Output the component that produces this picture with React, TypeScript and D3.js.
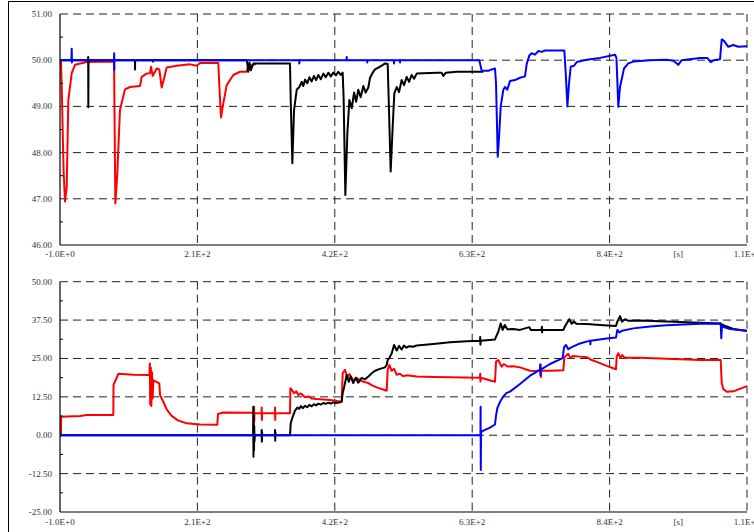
import React from "react";
import * as d3 from "d3";

type Pt = [number, number];

// time axis [s]
const xTicks = [-1, 210, 421, 632, 843, 1054];
const xTickLabels = ["-1.0E+0", "2.1E+2", "4.2E+2", "6.3E+2", "8.4E+2", "1.1E+3"];
const xUnit = "[s]";

const freqTicks = [46, 47, 48, 49, 50, 51];
const powerTicks = [-25, -12.5, 0, 12.5, 25, 37.5, 50];

// top panel (frequency)
const freqRed: Pt[] = [
  [-1, 50], [0.5, 50], [2, 49.2], [4.5, 47.6], [6.7, 46.94], [9.3, 47.26], [11.8, 49.14], [17, 49.72],
  [22, 49.9], [40, 49.96], [80.9, 49.97], [82, 49.94], [84, 46.9], [87, 47.55], [91.1, 48.92], [98.8, 49.37],
  [106.5, 49.42], [121.9, 49.44], [124.4, 49.64], [132, 49.71], [137.2, 49.72], [138.8, 49.86], [141.3, 49.66],
  [147.4, 49.82], [151.5, 49.8], [155.1, 49.41], [158.7, 49.6], [162.8, 49.84], [178.2, 49.88], [198.6, 49.91],
  [208.9, 49.88], [214, 49.94], [242.1, 49.94], [244.7, 49.16], [246.3, 48.76], [248.8, 48.99], [255, 49.46],
  [265.1, 49.68], [275.4, 49.75], [285.6, 49.75], [288.2, 49.87], [295.8, 49.9], [300, 49.92],
];

const freqBlack: Pt[] = [
  [-1, 50], [42, 50], [42.3, 50.07], [42.5, 48.98], [42.8, 50], [114, 50], [114.2, 49.8], [114.4, 50],
  [286, 50], [288, 49.75], [290, 49.95], [292, 49.78], [296, 49.93], [352.2, 49.93], [353.3, 49.14],
  [355.8, 47.77], [358.4, 48.92], [362.5, 49.36], [366.5, 49.42], [370.1, 49.53], [372.7, 49.44],
  [375.3, 49.58], [378.6, 49.5], [382, 49.63], [385.5, 49.54], [389, 49.66], [392.3, 49.57], [395.7, 49.68],
  [399.5, 49.59], [403.4, 49.71], [407.1, 49.63], [411, 49.73], [414.9, 49.65], [418.7, 49.73], [422.6, 49.67],
  [426.4, 49.75], [430, 49.68], [433.1, 49.73], [434.5, 49.2], [437.2, 47.08], [440.3, 48.42], [443.4, 49.14],
  [447, 48.96], [450.6, 49.3], [453.7, 49.1], [457.1, 49.36], [460.7, 49.2], [464.8, 49.44], [468.4, 49.3],
  [472.5, 49.41], [475.1, 49.62], [479.2, 49.73], [482.8, 49.8], [487.9, 49.84], [493, 49.88], [498.1, 49.93],
  [502.2, 49.92], [503.8, 49.14], [506.8, 47.59], [509.9, 48.56], [512.4, 49.28], [516.1, 49.42],
  [519.7, 49.31], [523.7, 49.57], [527.3, 49.46], [531.4, 49.64], [535, 49.53], [539.1, 49.68], [542.7, 49.6],
  [546.8, 49.71], [557, 49.72], [577.5, 49.73], [585, 49.73], [587.7, 49.66], [591.5, 49.73], [608.2, 49.75],
  [644, 49.75], [649.1, 49.75],
];

const freqBlue: Pt[] = [
  [-1, 50], [16.5, 50], [17, 50.25], [17.3, 49.95], [17.6, 50], [82, 50], [82.2, 50.15], [82.4, 49.79],
  [82.6, 50], [141.6, 50], [141.8, 49.97], [142, 50], [366.3, 50], [366.5, 49.93], [366.7, 50], [439.1, 50],
  [439.3, 50.07], [439.5, 50], [470.7, 50], [470.9, 49.95], [471.1, 50], [511.8, 50], [512, 49.93],
  [512.2, 50], [521, 50], [521.2, 49.95], [521.4, 50], [642.9, 50], [646.6, 49.77], [656.8, 49.77],
  [662, 49.8], [667, 49.82], [668.6, 49.5], [671.2, 47.91], [673.6, 48.42], [675.8, 49.0], [679.8, 49.36],
  [682.4, 49.42], [686, 49.36], [690, 49.55], [697.7, 49.57], [705.4, 49.62], [713.1, 49.65], [715.7, 49.92],
  [719.7, 50.1], [723.3, 50.15], [728.5, 50.12], [733.6, 50.2], [738.7, 50.18], [743.8, 50.21],
  [773.5, 50.21], [775.7, 49.7], [778.2, 49.0], [780.7, 49.5], [783.3, 49.86], [788.4, 49.88],
  [792.5, 49.96], [807.9, 50.01], [828.3, 50.05], [851.3, 50.12], [853.5, 50.05], [856.4, 48.99],
  [859, 49.42], [865.1, 49.82], [871.7, 49.93], [879.4, 49.97], [905, 50.0], [930.6, 50.01], [941, 49.99],
  [948.5, 49.9], [953.6, 50.0], [981.8, 50.05], [993, 50.05], [998.2, 49.96], [1003.3, 50.0],
  [1012.6, 50.02], [1015.2, 50.45], [1018.7, 50.42], [1025.3, 50.29], [1033, 50.33], [1040.7, 50.29],
  [1054, 50.3],
];

// bottom panel (power)
const powerRed: Pt[] = [
  [-1, 0], [0.5, 0], [0.7, 6.0], [10, 6.1], [30, 6.3], [40, 6.6], [80.9, 6.6], [81.2, 16.4], [83.5, 17.5],
  [88.6, 20.0], [111.6, 19.7], [136.2, 19.6], [137, 23.4], [137.5, 10], [138.5, 22], [139.3, 9.5],
  [140.3, 20.5], [141.3, 12], [142.3, 18], [143.3, 17.8], [151.5, 16.9], [152.6, 13.1], [157.7, 10.9],
  [162.8, 8.4], [170.5, 6.3], [180.7, 4.75], [193.5, 3.9], [214, 3.5], [240.6, 3.4], [241.6, 6.9],
  [249.8, 7.4], [296.5, 7.3], [297, 9.3], [297.3, 4.5], [297.7, 7.2], [308.5, 7.2], [308.7, 9.0],
  [309, 5.0], [309.3, 7.2], [329, 7.2], [329.2, 9.0], [329.5, 5.0], [329.8, 7.2], [352.2, 7.2],
  [352.8, 15.3], [356, 14.5], [358.4, 13.7], [362, 14.3], [365, 13.1], [369, 13.6], [375.3, 12.4],
  [381, 12.6], [385, 12.0], [393.2, 11.8], [413.6, 11.5], [431.6, 10.9], [433.1, 20.2], [436.7, 21.3],
  [440.3, 18.8], [443.4, 19.9], [449.4, 17.8], [454, 18.7], [464.8, 17.4], [472.5, 17.0], [477.7, 16.3],
  [485.3, 15.6], [500.7, 14.5], [502.2, 21.3], [504.7, 22.9], [508.4, 21.0], [512, 21.6], [516.1, 19.7],
  [521, 20.0], [526, 19.2], [531, 19.5], [546.8, 19.1], [572.3, 19.0], [597.9, 18.9], [644, 18.75],
  [644.3, 20.0], [644.6, 17.5], [645, 18.7], [667, 17.4], [668.6, 24.0], [672, 24.5], [677.3, 22.3],
  [680.5, 23.2], [686, 22.4], [695.2, 22.5], [705.4, 22.1], [720.8, 21.0], [730, 20.9], [736.1, 21.2],
  [737, 23], [737.5, 19], [738, 21.1], [751.5, 21.0], [772, 21.2], [773.5, 25.4], [779.6, 26.5],
  [782.8, 25.1], [786.5, 25.8], [797.6, 25.6], [807.9, 25.4], [815.5, 24.5], [828.3, 23.5], [838.5, 22.6],
  [852.8, 21.5], [853.9, 25.6], [856.5, 26.7], [859.5, 25.2], [862.5, 26.1], [866, 25.2], [889.7, 25.2],
  [930.6, 24.9], [981.8, 24.5], [1013.6, 24.5], [1015.2, 16.9], [1017.7, 15.0], [1022.9, 14.2],
  [1033, 14.3], [1054, 16.0],
];

const powerBlack: Pt[] = [
  [-1, 0], [295.5, 0], [295.8, 9.3], [296.1, -7], [296.5, 6], [296.9, -5], [297.3, 3], [297.7, -2],
  [298.2, 0], [308.5, 0], [308.7, 1.7], [309, -2.1], [309.3, 1], [309.6, 0], [329, 0], [329.2, 1.7],
  [329.5, -1.8], [329.8, 1], [330.1, 0], [352.2, 0], [353.3, 3.9], [356.3, 6.0], [359.9, 8.0], [363.5, 9.0],
  [366.5, 8.6], [369, 9.5], [372, 8.8], [375.3, 9.6], [378.6, 9.1], [382, 9.9], [385.5, 9.4], [389, 10.1],
  [392.3, 9.7], [395.7, 10.3], [399.5, 10.0], [403.4, 10.5], [407, 10.2], [411, 10.6], [415, 10.3],
  [418.7, 10.7], [423, 10.5], [429, 10.7], [431.6, 11.0], [433.1, 13.7], [435.6, 15.9], [439.3, 19.6],
  [442.4, 17.4], [445.5, 19.1], [449.4, 17.0], [453.4, 18.7], [457.1, 17.1], [462.3, 18.7], [467.5, 18.2],
  [472.5, 19.1], [477.7, 20.2], [482.8, 21.0], [490.4, 21.6], [498.1, 22.1], [500.7, 22.9], [502.2, 24.5],
  [504.7, 25.1], [508.4, 26.7], [512, 29.4], [516.1, 27.6], [519.7, 29.1], [523.7, 27.9], [527.3, 29.2],
  [531, 28.5], [535, 29.0], [541, 28.8], [546.8, 29.2], [572.3, 29.7], [597.9, 30.3], [623.5, 30.6],
  [644, 30.8], [644.3, 32], [644.6, 29.5], [645, 30.8], [667, 31.2], [668.6, 32.0], [672.1, 33.7],
  [675.8, 36.4], [678.8, 34.3], [682, 35.9], [686, 34.5], [695.2, 34.6], [705.4, 34.3], [719.7, 35.2],
  [722, 34.3], [738.7, 34.3], [739, 35.3], [739.3, 33.5], [739.6, 34.3], [772, 34.3], [774.5, 35.5],
  [781.1, 37.8], [784.8, 36.3], [788, 37.0], [792, 36.3], [807.9, 36.2], [828.3, 35.9], [852.8, 35.6],
  [854.9, 37], [859, 38.8], [862, 37], [866.7, 37.8], [871, 37.3], [889.7, 37.4], [930.6, 37.0],
  [981.8, 36.6], [1012.6, 36.4], [1017.7, 35.8], [1033, 34.6], [1054, 33.95],
];

const powerBlue: Pt[] = [
  [-1, 0], [644.7, 0], [644.9, 9.3], [645.2, -11.3], [645.6, 1.0], [649.1, 1.5], [659.4, 2.5], [667, 3.5],
  [668.6, 6.4], [670.6, 8.8], [674.6, 10.8], [679.8, 12.6], [684.9, 13.8], [690, 14.2], [705.4, 16.7],
  [720.8, 19.4], [736.1, 21.3], [736.5, 23], [736.9, 19.5], [737.3, 21.4], [751.5, 23.2], [770.9, 25.1],
  [773, 28.6], [776, 29.4], [779.6, 28.0], [784, 28.6], [797.6, 29.9], [812.9, 30.8], [813.5, 29.6],
  [814, 30.8], [838.5, 31.5], [852.8, 31.8], [854.9, 34.3], [858, 33.5], [862, 34.0], [879.4, 34.8],
  [905.1, 35.4], [930.6, 35.8], [981.8, 36.3], [1013.6, 36.4], [1014.5, 31.6], [1015.5, 35.5], [1018, 35.2],
  [1028, 34.6], [1054, 34.0],
];

const RED = "#ff0000";
const BLACK = "#000000";
const BLUE = "#0000ff";

const W = 754;
const H = 532;
const FONT = "'Liberation Serif', 'Times New Roman', serif";

const x = d3.scaleLinear().domain([-1, 1054]).range([60, 747]);

type Series = { data: Pt[]; color: string };

function Panel({ y, ticks, series, labelOffset }: {
  y: d3.ScaleLinear<number, number>;
  ticks: number[];
  series: Series[];
  labelOffset: number;
}) {
  const [x0, x1] = x.range();
  const [yb, yt] = y.range();
  const line = d3.line<Pt>().x(d => x(d[0])).y(d => y(d[1]));
  const minor = d3.pairs(ticks).map(([a, b]) => (a + b) / 2);
  return (
    <g>
      {ticks.slice(1).map(t => (
        <line key={"h" + t} x1={x0} x2={x1} y1={y(t)} y2={y(t)} stroke="#222" strokeWidth={1} strokeDasharray="8,5" />
      ))}
      {xTicks.slice(1).map(t => (
        <line key={"v" + t} x1={x(t)} x2={x(t)} y1={yt} y2={yb} stroke="#222" strokeWidth={1} strokeDasharray="8,5" />
      ))}
      {series.map((s, i) => (
        <path key={i} d={line(s.data) || ""} fill="none" stroke={s.color} strokeWidth={2} strokeLinejoin="round" />
      ))}
      <line x1={x0} x2={x0} y1={yt} y2={yb} stroke="#000" strokeWidth={1.2} />
      <line x1={x0} x2={x1} y1={yb} y2={yb} stroke="#000" strokeWidth={1.2} />
      {minor.map(t => (
        <line key={"m" + t} x1={x0} x2={x0 + 3} y1={y(t)} y2={y(t)} stroke="#000" strokeWidth={1} />
      ))}
      {ticks.map(t => (
        <text key={"l" + t} x={52} y={y(t) + 3} textAnchor="end" fontSize={9} fill="#333" fontFamily={FONT}>
          {t.toFixed(2)}
        </text>
      ))}
      {xTicks.map((t, i) => (
        <text key={"x" + t} x={x(t)} y={yb + labelOffset} textAnchor="middle" fontSize={9} fill="#333" fontFamily={FONT}>
          {xTickLabels[i]}
        </text>
      ))}
      <text x={x((xTicks[4] + xTicks[5]) / 2)} y={yb + labelOffset} textAnchor="middle" fontSize={9} fill="#333" fontFamily={FONT}>
        {xUnit}
      </text>
    </g>
  );
}

export default function App() {
  const yFreq = d3.scaleLinear().domain([46, 51]).range([245, 14]);
  const yPower = d3.scaleLinear().domain([-25, 50]).range([512, 281.7]);
  return (
    <svg width={W} height={H} style={{ position: "absolute", left: 0, top: 0, background: "#fff", display: "block" }}>
      <rect x={8.5} y={1.5} width={W + 20} height={H + 20} fill="none" stroke="#000" strokeWidth={1} />
      <Panel
        y={yFreq}
        ticks={freqTicks}
        labelOffset={11.5}
        series={[
          { data: freqRed, color: RED },
          { data: freqBlack, color: BLACK },
          { data: freqBlue, color: BLUE },
        ]}
      />
      <Panel
        y={yPower}
        ticks={powerTicks}
        labelOffset={12.5}
        series={[
          { data: powerRed, color: RED },
          { data: powerBlack, color: BLACK },
          { data: powerBlue, color: BLUE },
        ]}
      />
    </svg>
  );
}
